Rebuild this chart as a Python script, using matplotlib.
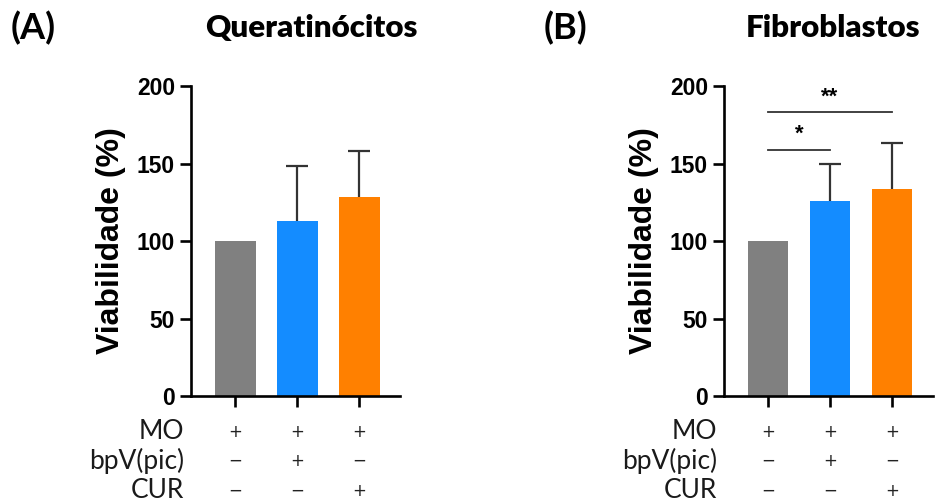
import matplotlib
matplotlib.use("Agg")
import matplotlib.pyplot as plt

# values
conditions = ["MO", "bpV(pic)", "CUR"]
# +/- table: rows = conditions, columns = bars
treatment = [
    ["+", "+", "+"],
    ["−", "+", "−"],
    ["−", "−", "+"],
]
bar_colors = ["#808080", "#148CFF", "#FF8000"]

querat_mean = [100, 113, 128.5]
querat_err = [0, 35.5, 29.5]

fibro_mean = [100, 125.5, 133.5]
fibro_err = [0, 24.5, 29.5]

# significance: (bar_a, bar_b, line height, label)
fibro_sig = [(0, 1, 159, "*"), (0, 2, 183, "**")]

yticks = [0, 50, 100, 150, 200]

NUM_FONT = "Liberation Sans"
TITLE_FONT = "Lato"
ROW_FONT = "Lato"

fig = plt.figure(figsize=(9.35, 5.04), dpi=100)


def draw_panel(left, letter, title, title_x, mean, err, sig):
    ax = fig.add_axes([left, 0.2143, 0.2235, 0.615])
    x = list(range(len(mean)))
    ax.bar(x, mean, width=0.66, color=bar_colors, zorder=2)
    # upper error bars only
    for xi, m, e in zip(x, mean, err):
        if e > 0:
            ax.vlines(xi, m, m + e, color="#333333", lw=1.6, zorder=1)
            ax.hlines(m + e, xi - 0.18, xi + 0.18, color="#333333", lw=1.6, zorder=1)
    ax.set_xlim(-0.71, 2.66)
    ax.set_ylim(0, 200)
    ax.set_yticks(yticks)
    ax.set_xticks(x)
    ax.set_xticklabels([])
    for s in ["top", "right"]:
        ax.spines[s].set_visible(False)
    for s in ["left", "bottom"]:
        ax.spines[s].set_linewidth(1.9)
    ax.tick_params(axis="both", width=1.9, length=8, direction="out")
    for lab in ax.get_yticklabels():
        lab.set_fontfamily(NUM_FONT)
        lab.set_fontweight("bold")
        lab.set_fontsize(16.5)
    ax.set_ylabel("Viabilidade (%)", fontfamily=NUM_FONT, fontweight="bold",
                  fontsize=23, labelpad=8)

    for a, b, h, lab in sig:
        ax.plot([a, b], [h, h], color="#333333", lw=1.3, clip_on=False)
        ax.text((a + b) / 2, h + 3, lab, ha="center", va="bottom",
                fontsize=16, fontweight="bold", fontfamily=NUM_FONT, clip_on=False)

    # treatment table under the axis
    row_y = [-0.115, -0.21, -0.305]
    for r, name in enumerate(conditions):
        ax.text(-0.033, row_y[r], name, transform=ax.transAxes, ha="right",
                va="center", fontsize=19, fontfamily=ROW_FONT, color="#1a1a1a")
        for c in range(len(mean)):
            ax.text(c, row_y[r], treatment[r][c],
                    transform=ax.get_xaxis_transform(), ha="center", va="center",
                    fontsize=12, fontfamily="DejaVu Sans", color="#222222")

    fig.text(left - 0.1925, 0.944, letter, fontsize=26, fontweight="bold",
             fontfamily=TITLE_FONT, va="center", ha="left")
    fig.text(title_x, 0.944, title, fontsize=22.5, fontweight="heavy",
             fontfamily=TITLE_FONT, va="center", ha="center")
    return ax


ax1 = draw_panel(0.2043, "(A)", "Queratinócitos", 0.3326, querat_mean, querat_err, [])
ax2 = draw_panel(0.7743, "(B)", "Fibroblastos", 0.8909, fibro_mean, fibro_err, fibro_sig)

fig.savefig("out.png", dpi=100, facecolor="white")
